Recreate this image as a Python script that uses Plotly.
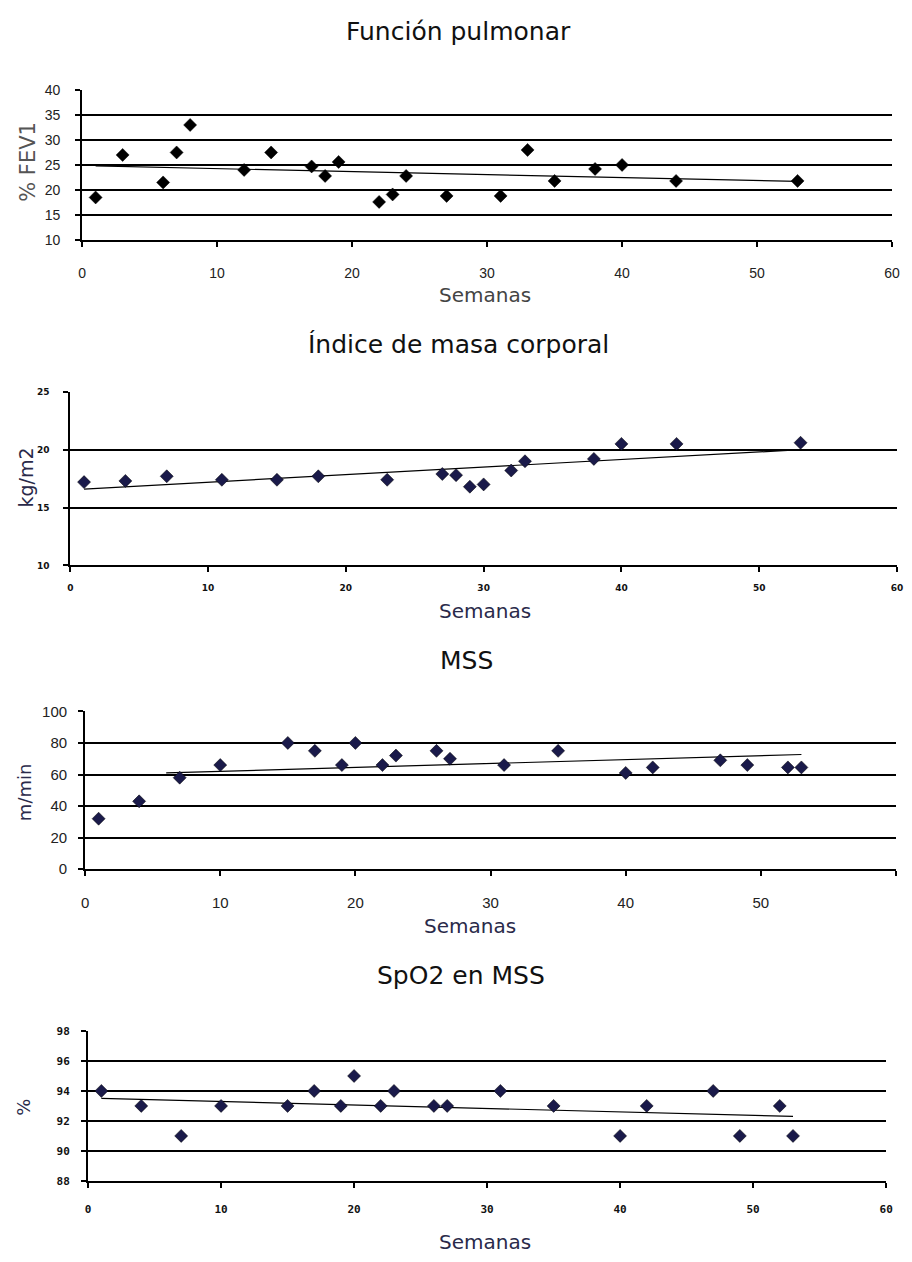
import plotly.graph_objects as go

# page offset of the figure (body margin) and figure size fitting in the window
OFF = 8
W, H = 912 - 2 * OFF, 1262 - 2 * OFF

# ---------------- data ----------------
fev_weeks = [1, 3, 6, 7, 8, 12, 14, 17, 18, 19, 22, 23, 24, 27, 31, 33, 35, 38, 40, 44, 53]
fev_vals = [18.5, 27, 21.5, 27.5, 33, 24, 27.5, 24.7, 22.8, 25.6, 17.6, 19.1, 22.8, 18.8, 18.8, 28, 21.8, 24.2, 25, 21.8, 21.8]
fev_trend_x = [1, 53]
fev_trend_y = [24.8, 21.7]

bmi_weeks = [1, 4, 7, 11, 15, 18, 23, 27, 28, 29, 30, 32, 33, 38, 40, 44, 53]
bmi_vals = [17.2, 17.3, 17.7, 17.4, 17.4, 17.7, 17.4, 17.9, 17.8, 16.8, 17.0, 18.2, 19.0, 19.2, 20.5, 20.5, 20.6]
bmi_trend_x = [1, 53]
bmi_trend_y = [16.6, 20.0]

mss_weeks = [1, 4, 7, 10, 15, 17, 19, 20, 22, 23, 26, 27, 31, 35, 40, 42, 47, 49, 52, 53]
mss_vals = [32, 43, 58, 66, 80, 75, 66, 80, 66, 72, 75, 70, 66, 75, 61, 64.5, 69, 66, 64.5, 64.5]
mss_trend_x = [6, 53]
mss_trend_y = [61, 72.7]

spo_weeks = [1, 4, 7, 10, 15, 17, 19, 20, 22, 23, 26, 27, 31, 35, 40, 42, 47, 49, 52, 53]
spo_vals = [94, 93, 91, 93, 93, 94, 93, 95, 93, 94, 93, 93, 94, 93, 91, 93, 94, 91, 93, 91]
spo_trend_x = [1, 53]
spo_trend_y = [93.5, 92.3]

titles = ["Función pulmonar", "Índice de masa corporal", "MSS", "SpO2 en MSS"]
ylabels = ["% FEV1", "kg/m2", "m/min", "%"]
xlabel = "Semanas"

x_ticks = [0, 10, 20, 30, 40, 50, 60]
fev_ticks = [10, 15, 20, 25, 30, 35, 40]
bmi_ticks = [10, 15, 20, 25]
mss_ticks = [0, 20, 40, 60, 80, 100]
spo_ticks = [88, 90, 92, 94, 96, 98]

# ---------------- layout helpers (page pixel -> paper fraction) ----------------
def fx(px):
    return min(1.0, max(0.0, (px - OFF) / W))

def fy(py):
    return min(1.0, max(0.0, 1 - (py - OFF) / H))

# panel pixel boxes on the page: (x0, x1, ytop, ybottom)
boxes = [
    (79, 899, 82, 234),
    (67, 904, 388, 564),
    (82, 903, 712, 872),
    (85, 893, 1036, 1188),
]
yranges = [(10, 40), (10, 25), (0, 100), (88, 98)]
yticks_all = [fev_ticks, bmi_ticks, mss_ticks, spo_ticks]
marker_colors = ["#000000", "#1a1a4a", "#1a1a4a", "#1a1a4a"]
tick_fonts = [
    dict(family="Liberation Sans", size=14, color="#222222"),
    dict(family="DejaVu Sans", size=9, color="#111111", weight="bold"),
    dict(family="Liberation Sans", size=15, color="#222222"),
    dict(family="DejaVu Sans Mono", size=11, color="#111111", weight="bold"),
]
title_y = [23, 340, 660, 980]
title_x = [460, 460, 468, 463]
title_sizes = [25, 25, 25, 25]
xlabel_y = [290, 610, 930, 1250]
xlabel_x = [487, 487, 472, 487]
ylabel_pos = [(24, 155), (22, 475), (20, 794), (20, 1113)]
ylabel_sizes = [21, 19, 18, 18]
ylabel_colors = ["#555555", "#2a2a4a", "#2a2a4a", "#2a2a4a"]
xlabel_colors = ["#444444", "#2a2a4a", "#2a2a4a", "#2a2a4a"]
xtick_standoff = [14, 8, 14, 12]
ytick_standoff = [12, 12, 8, 9]

series = [
    (fev_weeks, fev_vals, fev_trend_x, fev_trend_y),
    (bmi_weeks, bmi_vals, bmi_trend_x, bmi_trend_y),
    (mss_weeks, mss_vals, mss_trend_x, mss_trend_y),
    (spo_weeks, spo_vals, spo_trend_x, spo_trend_y),
]

fig = go.Figure()
annotations = []

for i, (wx, vy, tx, ty) in enumerate(series):
    n = "" if i == 0 else str(i + 1)
    xa, ya = "x" + n, "y" + n
    fig.add_trace(go.Scatter(
        x=tx, y=ty, mode="lines", xaxis=xa, yaxis=ya,
        line=dict(color="#000000", width=1.2), showlegend=False, hoverinfo="skip"))
    fig.add_trace(go.Scatter(
        x=wx, y=vy, mode="markers", xaxis=xa, yaxis=ya,
        marker=dict(symbol="diamond", size=10, color=marker_colors[i],
                    line=dict(color="#000000", width=0.5)),
        showlegend=False))
    x0, x1, yt, yb = boxes[i]
    fig.layout["xaxis" + n] = dict(
        domain=[fx(x0), fx(x1)], anchor=ya, range=[0, 60],
        tickvals=x_ticks, ticktext=[str(v) for v in x_ticks],
        showgrid=False, zeroline=False, showline=True, linecolor="#000000", linewidth=2,
        ticks="outside", ticklen=5, tickcolor="#000000", tickwidth=1.5,
        tickfont=tick_fonts[i], ticklabelstandoff=xtick_standoff[i], fixedrange=True)
    fig.layout["yaxis" + n] = dict(
        domain=[fy(yb), fy(yt)], anchor=xa, range=list(yranges[i]),
        tickvals=yticks_all[i], ticktext=[str(v) for v in yticks_all[i]],
        showgrid=True, gridcolor="#000000", gridwidth=1.5, zeroline=False,
        showline=True, linecolor="#000000", linewidth=2,
        ticks="outside", ticklen=5, tickcolor="#000000", tickwidth=1.5,
        tickfont=tick_fonts[i], ticklabelstandoff=ytick_standoff[i], fixedrange=True)

    annotations.append(dict(
        text=titles[i], x=fx(title_x[i]), y=fy(title_y[i]), xref="paper", yref="paper",
        showarrow=False, xanchor="center", yanchor="middle",
        font=dict(family="DejaVu Sans", size=title_sizes[i], color="#111111")))
    annotations.append(dict(
        text=xlabel, x=fx(xlabel_x[i]), y=fy(xlabel_y[i]), xref="paper", yref="paper",
        showarrow=False, xanchor="center", yanchor="middle",
        font=dict(family="DejaVu Sans", size=20, color=xlabel_colors[i])))
    annotations.append(dict(
        text=ylabels[i], x=fx(ylabel_pos[i][0]), y=fy(ylabel_pos[i][1]), xref="paper", yref="paper",
        showarrow=False, xanchor="center", yanchor="middle", textangle=-90,
        font=dict(family="DejaVu Sans", size=ylabel_sizes[i], color=ylabel_colors[i])))

fig.update_layout(
    width=W, height=H, margin=dict(l=0, r=0, t=0, b=0),
    paper_bgcolor="#ffffff", plot_bgcolor="#ffffff",
    annotations=annotations, showlegend=False)

fig.write_html("out.html", config={"displayModeBar": False})
